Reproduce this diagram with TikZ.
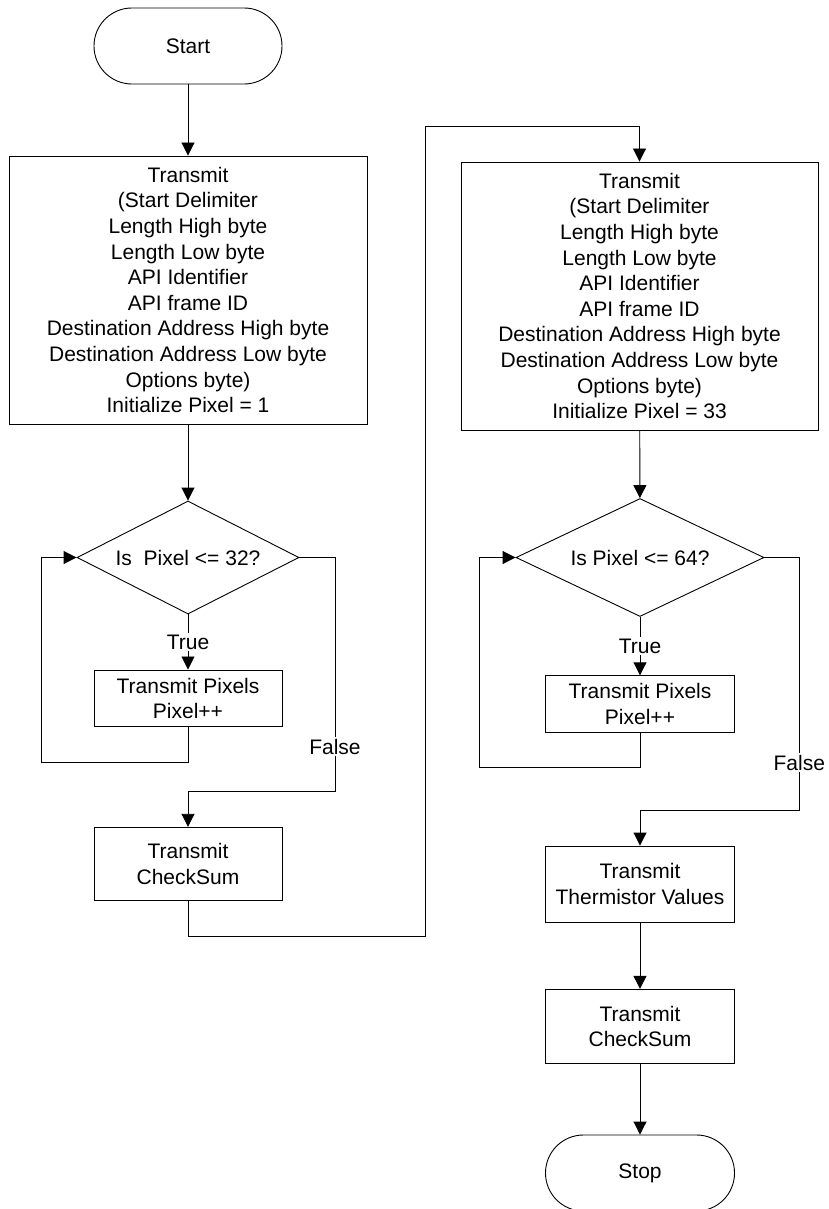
\documentclass[tikz,border=0pt]{standalone}
\usepackage{fontspec}
\setmainfont{Liberation Sans}
\usetikzlibrary{arrows.meta,shapes.geometric}

\begin{document}
\begin{tikzpicture}[x=1pt,y=-1pt,
  every node/.style={font=\fontsize{21}{25.6}\selectfont, inner sep=0pt, align=center},
  procbox/.style={draw, line width=0.9pt, rectangle},
  termbox/.style={draw, line width=0.9pt, rectangle, rounded corners=37.9pt,
                  minimum width=188pt, minimum height=76pt},
  decide/.style={draw, line width=0.9pt, diamond},
  flow/.style={line width=0.9pt, -{Triangle[length=13pt,width=13pt]}},
  link/.style={line width=0.9pt},
  branch/.style={fill=white, inner sep=1.5pt}
]
\useasboundingbox (0,0) rectangle (828,1209);

% left column
\node[termbox] (start) at (188,46) {Start};
\node[procbox, minimum width=358pt, minimum height=268pt] (tx1) at (188,290)
  {Transmit\\(Start Delimiter\\Length High byte\\Length Low byte\\API Identifier\\API frame ID\\Destination Address High byte\\Destination Address Low byte\\Options byte)\\Initialize Pixel = 1};
\node[decide, aspect=1.96, minimum width=222pt, minimum height=113pt] (d1) at (188,557.5) {Is\ \ Pixel <= 32?};
\node[procbox, minimum width=188pt, minimum height=56.7pt] (px1) at (188,698.3) {Transmit Pixels\\Pixel++};
\node[procbox, minimum width=188pt, minimum height=73.5pt] (cs1) at (188,864) {Transmit\\CheckSum};

% right column
\node[procbox, minimum width=357pt, minimum height=268pt] (tx2) at (639.5,296)
  {Transmit\\(Start Delimiter\\Length High byte\\Length Low byte\\API Identifier\\API frame ID\\Destination Address High byte\\Destination Address Low byte\\Options byte)\\Initialize Pixel = 33};
\node[decide, aspect=2.1, minimum width=248pt, minimum height=118pt] (d2) at (640,557.5) {Is Pixel <= 64?};
\node[procbox, minimum width=189pt, minimum height=56.5pt] (px2) at (640,704) {Transmit Pixels\\Pixel++};
\node[procbox, minimum width=189pt, minimum height=76pt] (th) at (640,884) {Transmit\\Thermistor Values};
\node[procbox, minimum width=189pt, minimum height=74pt] (cs2) at (640,1026.3) {Transmit\\CheckSum};
\node[termbox, minimum width=189pt] (stop) at (640,1173) {Stop};

% routing corners
\coordinate (l1) at (41.3,762.7);
\coordinate (r1) at (335,791);
\coordinate (b1) at (425,936.7);
\coordinate (t1) at (425,126);
\coordinate (l2) at (479.3,767.7);
\coordinate (r2) at (799.3,810);

% left column connectors
\draw[flow] (start) -- (tx1);
\draw[flow] (tx1) -- (d1);
\draw[flow] (d1.south) -- node[branch] (true1) {True} (px1.north);
\draw[flow] (px1.south) |- (l1) |- (d1.west);
\draw[flow] (d1.east) -| (r1) -| (cs1.north);
\node[branch] (false1) at (335,746.7) {False};

% crossing to the right column
\draw[flow] (cs1.south) |- (b1) -- (t1) -| (tx2.north);

% right column connectors
\draw[flow] (tx2) -- (d2);
\draw[flow] (d2.south) -- node[branch] (true2) {True} (px2.north);
\draw[flow] (px2.south) |- (l2) |- (d2.west);
\draw[flow] (d2.east) -| (r2) -| (th.north);
\node[branch] (false2) at (799.3,762.7) {False};
\draw[flow] (th) -- (cs2);
\draw[flow] (cs2) -- (stop);
\end{tikzpicture}
\end{document}
